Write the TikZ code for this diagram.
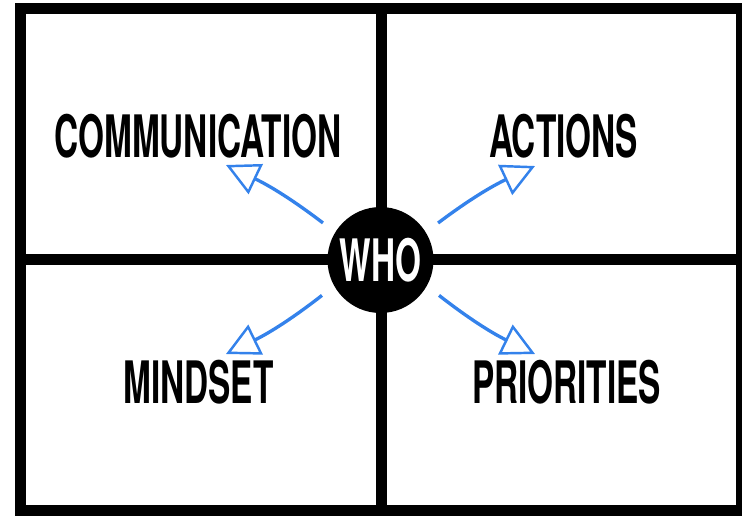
\documentclass[tikz,border=0pt]{standalone}
\usepackage{fontspec}
\usepackage{tikz}
\usetikzlibrary{arrows.meta}
\newfontfamily\quadfont{TeX Gyre Heros}[FakeStretch=0.57]
\definecolor{whoblue}{RGB}{52,130,235}

\begin{document}
\begin{tikzpicture}[x=0.02cm, y=-0.02cm, line width=0.22cm]
		\useasboundingbox (0,0) rectangle (742,518);
		% frame and cross
		\draw (20.5,8.5) rectangle (741.5,510.5);
		\draw (20.5,259.5) -- (741.5,259.5);
		\draw (381.5,8.5) -- (381.5,510.5);
		\begin{scope}[every node/.style={font=\quadfont\bfseries\fontsize{33.3}{40}\selectfont, anchor=base}]
			\node (comm) at(198, 157) {COMMUNICATION};
			\node (actions) at(563.5, 157) {ACTIONS};
			\node (mindset) at(198.5, 403) {MINDSET};
			\node (priorities) at(566.5, 403) {PRIORITIES};
		\end{scope}
		\node (who) at(380.5, 260) [circle, fill=black, inner sep=0pt, minimum size=2.12cm,
			text=white, font=\quadfont\bfseries\fontsize{33.3}{40}\selectfont] {WHO};
		\coordinate (tcomm) at(226, 165);
		\coordinate (tactions) at(535, 166);
		\coordinate (tmindset) at(226, 354);
		\coordinate (tpriorities) at(535, 354);
		\begin{scope}[whoblue, line width=1.9pt, shorten <= 0.2cm,
				-{Triangle[open, length=0.66cm, width=0.66cm, line width=1.4pt]}]
			\path (who.148) edge [bend right = 6] (tcomm);
			\path (who.32) edge [bend left = 6] (tactions);
			\path (who.210) edge [bend left = 6] (tmindset);
			\path (who.330) edge [bend right = 6] (tpriorities);
		\end{scope}
	\end{tikzpicture}
\end{document}
